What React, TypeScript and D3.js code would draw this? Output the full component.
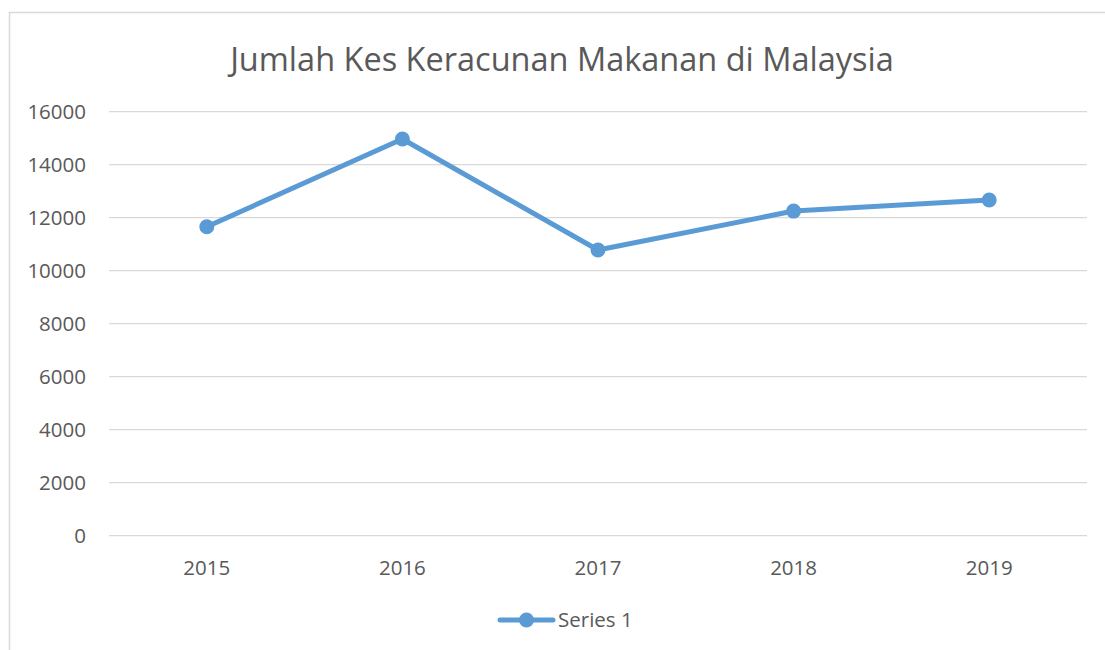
import React from "react";
import * as d3 from "d3";

const categories = ["2015", "2016", "2017", "2018", "2019"];
const seriesValues = [11660, 14970, 10780, 12250, 12670];
const yTicks = [0, 2000, 4000, 6000, 8000, 10000, 12000, 14000, 16000];
const seriesName = "Series 1";
const title = "Jumlah Kes Keracunan Makanan di Malaysia";

const W = 1105;
const H = 650;
const FONT = "'Open Sans', sans-serif";
const TEXT = "#595959";
const GRID = "#d9d9d9";
const BLUE = "#5b9bd5";

export default function App() {
  const x = d3.scaleBand<string>().domain(categories).range([109, 1087]);
  const y = d3.scaleLinear().domain([0, 16000]).range([535.7, 111.7]);
  const line = d3
    .line<number>()
    .x((_, i) => (x(categories[i]) as number) + x.bandwidth() / 2)
    .y((d) => y(d));

  return (
    <svg
      width={W}
      height={H}
      style={{ position: "absolute", left: 0, top: 0, background: "#fff" }}
      fontFamily={FONT}
    >
      <rect x={0} y={0} width={W} height={H} fill="#fff" />
      <rect x={9.5} y={12.5} width={W + 20} height={H + 20} fill="none" stroke={GRID} strokeWidth={1.5} />
      <text x={562} y={71} textAnchor="middle" fontSize={32.5} fill={TEXT}>
        {title}
      </text>
      {yTicks.map((t) => (
        <g key={t}>
          <line x1={109} x2={1087} y1={y(t)} y2={y(t)} stroke={GRID} strokeWidth={1.3} />
          <text x={86} y={y(t) + 7} textAnchor="end" fontSize={20.5} fill={TEXT}>
            {t}
          </text>
        </g>
      ))}
      {categories.map((c) => (
        <text
          key={c}
          x={(x(c) as number) + x.bandwidth() / 2}
          y={575}
          textAnchor="middle"
          fontSize={20.5}
          fill={TEXT}
        >
          {c}
        </text>
      ))}
      <path d={line(seriesValues) || ""} fill="none" stroke={BLUE} strokeWidth={5} strokeLinejoin="round" />
      {seriesValues.map((v, i) => (
        <circle
          key={i}
          cx={(x(categories[i]) as number) + x.bandwidth() / 2}
          cy={y(v)}
          r={7.5}
          fill={BLUE}
        />
      ))}
      <line x1={500} x2={553} y1={620} y2={620} stroke={BLUE} strokeWidth={5} strokeLinecap="round" />
      <circle cx={526.5} cy={620} r={7.5} fill={BLUE} />
      <text x={558} y={627} fontSize={20.5} fill={TEXT}>
        {seriesName}
      </text>
    </svg>
  );
}
